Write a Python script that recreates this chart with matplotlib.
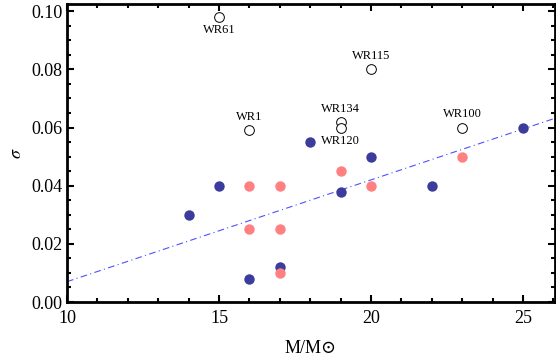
import matplotlib
matplotlib.use("Agg")
import matplotlib.pyplot as plt
import numpy as np
from matplotlib.ticker import MultipleLocator

# open circles (labelled stars)
wr_names = ["WR61", "WR1", "WR115", "WR134", "WR120", "WR100"]
wr_mass = [15, 16, 20, 19, 19, 23]
wr_sigma = [0.098, 0.059, 0.080, 0.062, 0.060, 0.060]

# blue filled points
blue_mass = [14, 15, 16, 17, 18, 19, 20, 22, 25]
blue_sigma = [0.030, 0.040, 0.008, 0.012, 0.055, 0.038, 0.050, 0.040, 0.060]

# pink filled points
pink_mass = [16, 16, 17, 17, 17, 19, 20, 23]
pink_sigma = [0.040, 0.025, 0.040, 0.025, 0.010, 0.045, 0.040, 0.050]

# fitted line
slope, intercept = 0.0035, -0.028

serif = ["Liberation Serif", "DejaVu Serif"]
plt.rcParams["font.family"] = serif
plt.rcParams["mathtext.fontset"] = "stix"

fig = plt.figure(figsize=(5.56, 3.6), dpi=100)
ax = fig.add_axes([0.1205, 0.161, 0.8775, 0.828])

xl = np.array([10, 26.05])
ax.plot(xl, slope * xl + intercept, color="#5050ff", lw=0.8, ls=(0, (6, 3, 1, 3)))

ax.plot(blue_mass, blue_sigma, "o", color="#3c3c9c", ms=7.5, mec="none")
ax.plot(pink_mass, pink_sigma, "o", color="#ff8080", ms=7.5, mec="none")
ax.plot(wr_mass, wr_sigma, "o", mfc="white", mec="black", mew=0.7, ms=7)

offsets = {"WR61": (0, -0.0045), "WR1": (0, 0.0045), "WR115": (0, 0.0045),
           "WR134": (0, 0.0045), "WR120": (0, -0.0045), "WR100": (0, 0.0045)}
for name, m, s in zip(wr_names, wr_mass, wr_sigma):
    dx, dy = offsets[name]
    ax.text(m + dx, s + dy, name, ha="center", va="center", fontsize=9)

ax.set_xlim(10, 26.05)
ax.set_ylim(0, 0.1025)
ax.xaxis.set_major_locator(MultipleLocator(5))
ax.xaxis.set_minor_locator(MultipleLocator(1))
ax.yaxis.set_major_locator(MultipleLocator(0.02))
ax.yaxis.set_minor_locator(MultipleLocator(0.005))
ax.yaxis.set_major_formatter(matplotlib.ticker.FormatStrFormatter("%.2f"))
ax.tick_params(which="both", direction="in", top=True, right=True, labelsize=13, width=1.5)
ax.tick_params(axis="x", pad=6)
ax.tick_params(which="major", length=5)
ax.tick_params(which="minor", length=3)
for sp in ax.spines.values():
    sp.set_linewidth(2)

ax.set_xlabel("M/M\u2299", fontsize=13, family=serif, labelpad=9)
ax.set_ylabel(r"$\sigma$", fontsize=13)

fig.savefig("out.png", dpi=100)
